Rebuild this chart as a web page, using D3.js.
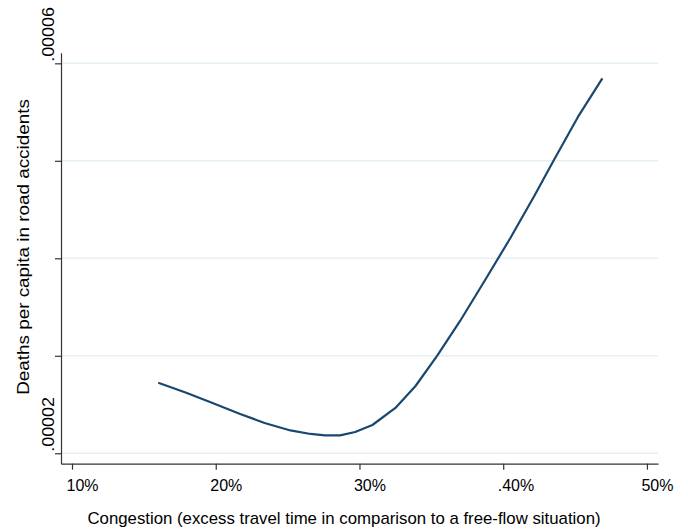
<!DOCTYPE html>
<html>
<head>
<meta charset="utf-8">
<script src="https://cdn.jsdelivr.net/npm/d3@7"></script>
<style>
  body { margin: 0; background: #fff; }
  svg text { font-family: Arial, "Liberation Sans", sans-serif; fill: #000; }
</style>
</head>
<body>
<svg id="chart"></svg>
<script>
// congestion (%) and deaths per capita
const congestion = [16.0, 17.9, 19.6, 21.7, 23.4, 25.2, 26.6, 27.6, 28.65, 29.7, 30.9, 32.5, 33.9, 35.4, 37.0, 38.7, 40.5, 42.2, 43.5, 45.2, 46.9];
const deaths = [2.724e-5, 2.624e-5, 2.526e-5, 2.403e-5, 2.311e-5, 2.234e-5, 2.198e-5, 2.183e-5, 2.183e-5, 2.218e-5, 2.290e-5, 2.465e-5, 2.690e-5, 3.000e-5, 3.357e-5, 3.767e-5, 4.208e-5, 4.650e-5, 5.000e-5, 5.450e-5, 5.846e-5];

const xTicks = [10, 20, 30, 40, 50];
const xTickLabels = ["10%", "20%", "30%", ".40%", "50%"];
const yTicks = [2e-5, 3e-5, 4e-5, 5e-5, 6e-5];
const yTickLabels = [".00002", "", "", "", ".00006"];

const xTitle = "Congestion (excess travel time in comparison to a free-flow situation)";
const yTitle = "Deaths per capita in road accidents";

const width = 688, height = 530;
const margin = { top: 52.7, right: 30, bottom: 66.3, left: 61 };

const svg = d3.select("#chart")
    .attr("width", width)
    .attr("height", height);

const x = d3.scaleLinear()
    .domain([9.234, 50.77])
    .range([margin.left, width - margin.right]);

const y = d3.scaleLinear()
    .domain([1.893e-5, 6.109e-5])
    .range([height - margin.bottom, margin.top]);

// grid
svg.append("g")
    .selectAll("line")
    .data(yTicks)
    .enter().append("line")
    .attr("x1", margin.left)
    .attr("x2", width - margin.right)
    .attr("y1", d => y(d))
    .attr("y2", d => y(d))
    .attr("stroke", "#e6eff2")
    .attr("stroke-width", 1.5);

// x axis
const xAxis = svg.append("g")
    .attr("transform", `translate(0, ${height - margin.bottom})`)
    .call(d3.axisBottom(x).tickValues(xTicks).tickSizeOuter(0).tickSizeInner(6)
        .tickFormat((d, i) => xTickLabels[i]));
xAxis.select(".domain").attr("stroke", "#333").attr("stroke-width", 1.2);
xAxis.selectAll(".tick line").attr("stroke", "#333").attr("stroke-width", 1.2);
xAxis.selectAll(".tick text")
    .attr("text-anchor", "start")
    .attr("x", -6)
    .attr("y", 16)
    .attr("font-size", 16);

// y axis
const yAxis = svg.append("g")
    .attr("transform", `translate(${margin.left}, 0)`)
    .call(d3.axisLeft(y).tickValues(yTicks).tickSizeOuter(0).tickSizeInner(6)
        .tickFormat((d, i) => yTickLabels[i]));
yAxis.select(".domain").attr("stroke", "#333").attr("stroke-width", 1.2);
yAxis.selectAll(".tick line").attr("stroke", "#333").attr("stroke-width", 1.2);
yAxis.selectAll(".tick text")
    .attr("text-anchor", "start")
    .attr("x", 0)
    .attr("y", 0)
    .attr("dy", 0)
    .attr("font-size", 16)
    .attr("transform", "translate(-7, -2) rotate(-90) scale(1.12, 1)");

// curve
const pts = congestion.map((c, i) => [c, deaths[i]]);
svg.append("path")
    .datum(pts)
    .attr("fill", "none")
    .attr("stroke", "#1a476f")
    .attr("stroke-width", 2.2)
    .attr("stroke-linejoin", "round")
    .attr("d", d3.line().x(d => x(d[0])).y(d => y(d[1])));

// titles
svg.append("text")
    .attr("transform", "translate(344, 524) scale(1.05, 1)")
    .attr("text-anchor", "middle")
    .attr("font-size", 16)
    .text(xTitle);

svg.append("text")
    .attr("transform", "translate(29, 247) rotate(-90) scale(1.18, 1)")
    .attr("text-anchor", "middle")
    .attr("font-size", 16)
    .text(yTitle);
</script>
</body>
</html>
